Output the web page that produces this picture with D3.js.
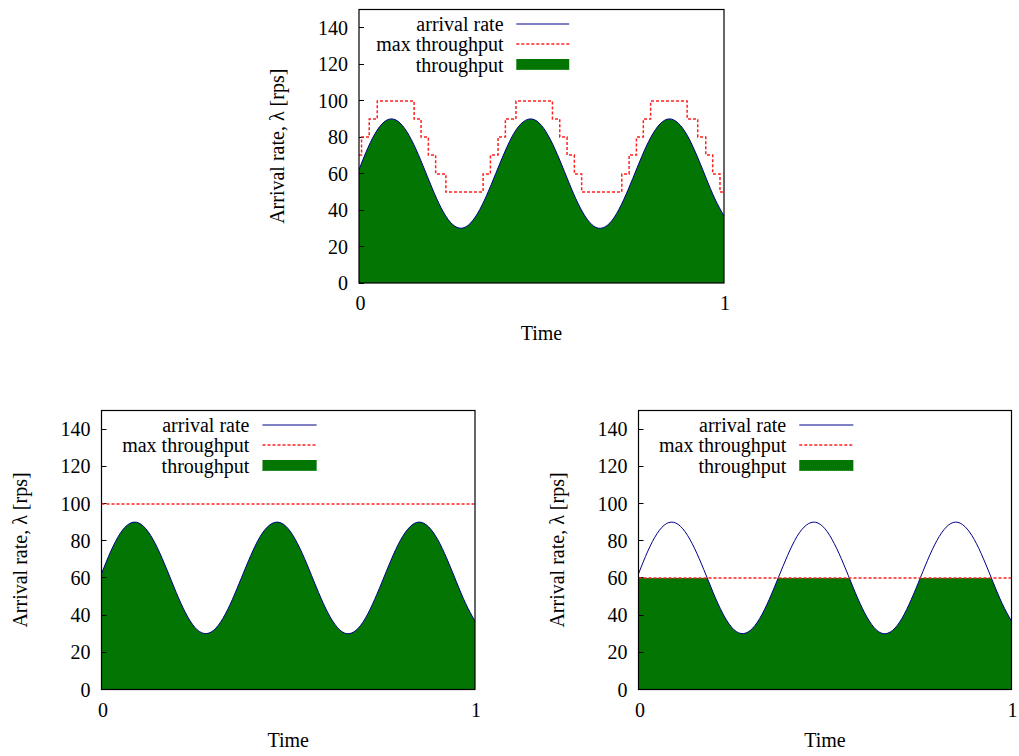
<!DOCTYPE html>
<html>
<head>
<meta charset="utf-8">
<script src="https://cdn.jsdelivr.net/npm/d3@7"></script>
<style>
  html, body { margin: 0; padding: 0; background: #fff; }
  svg text { font-family: "Liberation Serif", "Times New Roman", serif; fill: #000; }
</style>
</head>
<body>
<svg id="chart" width="1019" height="756"></svg>
<script>
// ---------- data ----------
const timeTicks = [0, 1];
const yTicks = [0, 20, 40, 60, 80, 100, 120, 140];
const legendLabels = ["arrival rate", "max throughput", "throughput"];
const xLabel = "Time";
const yLabel = "Arrival rate, \u03BB [rps]";

// arrival rate samples (time, rps)
const arrivalTime = [0,0.025,0.05,0.075,0.1,0.125,0.15,0.175,0.2,0.225,0.25,0.275,0.3,0.325,0.35,0.375,0.4,0.425,0.45,0.475,0.5,0.525,0.55,0.575,0.6,0.625,0.65,0.675,0.7,0.725,0.75,0.775,0.8,0.825,0.85,0.875,0.9,0.925,0.95,0.975,1];
const arrivalRate = [62.2,74.4,83.9,89.2,89.5,84.8,76.0,64.5,52.2,41.2,33.4,30.1,31.8,38.2,48.2,60.2,72.2,82.3,88.4,89.9,86.4,78.4,67.4,55.1,43.7,35.0,30.4,30.9,36.2,45.6,57.3,69.5,80.1,87.3,90.0,87.6,80.7,70.2,58.0,46.2,36.7];

// max throughput, top panel (step function: start time of each level)
const stepTime  = [0,0.007,0.028,0.050,0.151,0.170,0.190,0.210,0.238,0.340,0.360,0.381,0.401,0.430,0.530,0.550,0.570,0.590,0.610,0.720,0.740,0.760,0.779,0.799,0.899,0.928,0.950,0.969,0.989,1];
const stepLevel = [70,80,90,100,90,80,70,60,50,60,70,80,90,100,90,80,70,60,50,60,70,80,90,100,90,80,70,60,50,50];

// max throughput, bottom panels (constant)
const constTime = [0, 1];
const constLevel100 = [100, 100];
const constLevel60 = [60, 60];

// ---------- layout ----------
const panels = [
  { id: "p1", left: 359, top: 9.5, width: 365, height: 273.5, capT: stepTime, capV: stepLevel },
  { id: "p2", left: 101.5, top: 410.5, width: 373.5, height: 279, capT: constTime, capV: constLevel100 },
  { id: "p3", left: 638.5, top: 410.5, width: 373, height: 279, capT: constTime, capV: constLevel60 }
];

const GREEN = "#037503";
const BLUE = "#00008b";
const RED = "#ff2020";
const FS = 20;

const svg = d3.select("#chart");
const defs = svg.append("defs");
const crisp = v => Math.round(v - 0.5) + 0.5;
const soft = v => Math.round(v);

panels.forEach(p => {
  const x = d3.scaleLinear().domain([0, 1]).range([p.left, p.left + p.width]);
  const y = d3.scaleLinear().domain([0, 150]).range([p.top + p.height, p.top]);

  const arrival = arrivalTime.map((t, i) => ({ t, v: arrivalRate[i] }));
  const cap = p.capT.map((t, i) => ({ t, v: p.capV[i] }));

  // clip: region under max throughput
  const capArea = d3.area().curve(d3.curveStepAfter)
    .x(d => x(d.t)).y0(y(0)).y1(d => soft(y(d.v)));
  defs.append("clipPath").attr("id", "clip-" + p.id)
    .append("path").attr("d", capArea(cap));

  const g = svg.append("g");

  // throughput = arrival rate limited by max throughput
  const arrArea = d3.area().curve(d3.curveNatural)
    .x(d => x(d.t)).y0(y(0)).y1(d => y(d.v));
  g.append("path").attr("d", arrArea(arrival))
    .attr("fill", GREEN).attr("clip-path", `url(#clip-${p.id})`);

  // y ticks (inside)
  yTicks.forEach(v => {
    g.append("line").attr("x1", x(0)).attr("x2", x(0) + 5)
      .attr("y1", crisp(y(v))).attr("y2", crisp(y(v)))
      .attr("stroke", "#000").attr("stroke-width", 1);
    g.append("text").attr("x", x(0) - 11).attr("y", y(v)).attr("dy", "0.35em")
      .attr("text-anchor", "end").attr("font-size", FS).text(v);
  });

  // x tick labels
  timeTicks.forEach(t => {
    g.append("text").attr("x", x(t) + (t === 0 ? 1.5 : 1)).attr("y", y(0) + 27)
      .attr("text-anchor", "middle").attr("font-size", FS).text(t);
  });

  // arrival line
  const arrLine = d3.line().curve(d3.curveNatural).x(d => x(d.t)).y(d => y(d.v));
  g.append("path").attr("d", arrLine(arrival))
    .attr("fill", "none").attr("stroke", BLUE).attr("stroke-width", 1);

  // max throughput line
  const capLine = d3.line().curve(d3.curveStepAfter).x(d => x(d.t)).y(d => soft(y(d.v)));
  g.append("path").attr("d", capLine(cap))
    .attr("fill", "none").attr("stroke", RED).attr("stroke-width", 1.5)
    .attr("stroke-dasharray", "3,2");

  // frame
  g.append("rect").attr("x", p.left).attr("y", p.top)
    .attr("width", p.width).attr("height", p.height)
    .attr("fill", "none").attr("stroke", "#000").attr("stroke-width", 1.2);

  // axis labels
  g.append("text").attr("x", p.left + p.width / 2).attr("y", y(0) + 57)
    .attr("text-anchor", "middle").attr("font-size", FS).text(xLabel);
  const cy = p.top + p.height / 2;
  const cx = p.left - 82;
  g.append("text").attr("transform", `translate(${cx},${cy}) rotate(-90)`)
    .attr("dy", "0.35em").attr("text-anchor", "middle").attr("font-size", FS).text(yLabel);

  // legend
  const tx = p.left + 0.396 * p.width;
  const sx0 = p.left + 0.431 * p.width;
  const sx1 = p.left + 0.576 * p.width;
  const rows = [p.top + 14.5, p.top + 34.5, p.top + 55];
  legendLabels.forEach((lab, i) => {
    g.append("text").attr("x", tx).attr("y", rows[i]).attr("dy", "0.35em")
      .attr("text-anchor", "end").attr("font-size", FS).text(lab);
  });
  g.append("line").attr("x1", sx0).attr("x2", sx1).attr("y1", rows[0]).attr("y2", rows[0])
    .attr("stroke", BLUE).attr("stroke-width", 1);
  g.append("line").attr("x1", sx0).attr("x2", sx1).attr("y1", soft(rows[1])).attr("y2", soft(rows[1]))
    .attr("stroke", RED).attr("stroke-width", 1.5).attr("stroke-dasharray", "3,2");
  g.append("rect").attr("x", sx0).attr("y", rows[2] - 5.5).attr("width", sx1 - sx0).attr("height", 11)
    .attr("fill", GREEN);
  g.append("line").attr("x1", sx0).attr("x2", sx1).attr("y1", rows[2] + 5).attr("y2", rows[2] + 5)
    .attr("stroke", "#4fa54f").attr("stroke-width", 1).attr("stroke-dasharray", "1,1");
});
</script>
</body>
</html>
